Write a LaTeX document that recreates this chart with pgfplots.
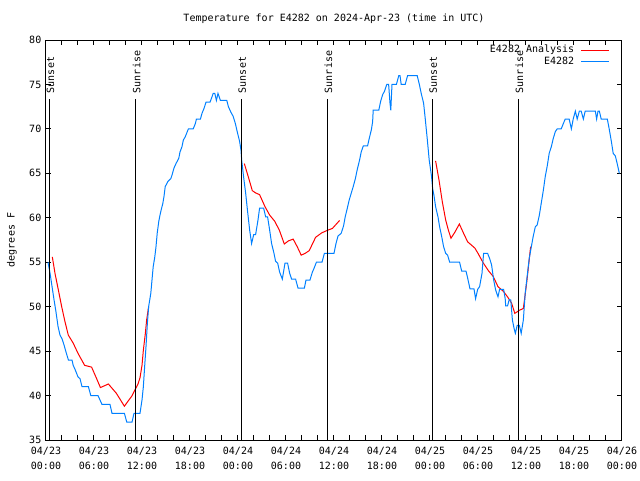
\documentclass[border=0pt]{standalone}
\usepackage{fontspec}
\setmainfont{DejaVu Sans Mono}
\usepackage{pgfplots}
\pgfplotsset{compat=1.18}
\definecolor{gred}{RGB}{255,0,0}
\definecolor{gblue}{RGB}{0,128,255}
\begin{document}
\begin{tikzpicture}[font=\fontsize{7.5pt}{9pt}\selectfont]
\path[use as bounding box] (-34.5pt,-30pt) rectangle (445.5pt,330pt);
\begin{axis}[
  at={(0pt,0pt)}, anchor=south west,
  scale only axis, width=432pt, height=300pt,
  xmin=0, xmax=72, ymin=35, ymax=80,
  axis line style={black, line width=0.75pt},
  xtick={0,6,...,72},
  minor xtick={2,4,8,10,14,16,20,22,26,28,32,34,38,40,44,46,50,52,56,58,62,64,68,70},
  ytick={35,40,...,80},
  major tick length=3.5pt, minor tick length=3.5pt,
  tick style={black, line width=0.75pt},
  xticklabels={{04/23\\00:00},{04/23\\06:00},{04/23\\12:00},{04/23\\18:00},{04/24\\00:00},{04/24\\06:00},{04/24\\12:00},{04/24\\18:00},{04/25\\00:00},{04/25\\06:00},{04/25\\12:00},{04/25\\18:00},{04/26\\00:00}},
  xticklabel style={align=center, font=\fontsize{7.5pt}{11.2pt}\selectfont, yshift=-1.8pt},
  /pgf/number format/assume math mode=true,
  yticklabel style={font=\fontsize{7.5pt}{9pt}\selectfont},
  title={Temperature for E4282 on 2024-Apr-23 (time in UTC)},
  title style={at={(axis description cs:0.5,1.0325)}, anchor=center, inner sep=0pt},
  ylabel={degrees F},
  ylabel style={at={(axis description cs:-0.059,0.5)}, anchor=center, inner sep=0pt},
  legend style={at={(rel axis cs:0.979,0.99)}, anchor=north east, draw=none, fill=none,
    inner sep=0pt, outer sep=0pt, nodes={inner sep=1pt}, row sep=-0.5pt},
  legend cell align=right,
  legend plot pos=right,
  legend image code/.code={\path (0pt,0pt); \draw[#1] (4pt,0pt) -- (25pt,0pt);},
]
% Analysis (red)
\addplot[gred, line width=0.75pt] coordinates {
(0.79,55.6) (1.125,53.75) (1.54,51.9) (1.96,50.0) (2.375,48.3) (2.79,46.8) (3.4,45.9) (4.0,44.75)
(4.83,43.4) (5.7,43.2) (6.33,41.9) (6.8,40.9) (7.8,41.3) (8.8,40.25) (9.8,38.8) (10.2,39.3)
(10.7,39.9) (11.1,40.6) (11.5,41.3) (11.75,42) (12.0,43.4) (12.17,45.1) (12.42,47) (12.58,48.5) (12.83,50)
};
\addlegendentry{E4282 Analysis}
\addplot[gred, line width=0.75pt, forget plot] coordinates {
(24.79,66.1) (25.29,64.6) (25.79,63.05) (26.2,62.8) (26.7,62.6) (27.375,61.25) (27.96,60.3) (28.6,59.6)
(29.17,58.6) (29.79,57.05) (30.3,57.4) (30.9,57.6) (31.4,56.75) (31.9,55.8) (32.4,56.0) (32.9,56.3)
(33.7,57.8) (34.46,58.3) (35.2,58.6) (35.8,58.8) (36.2,59.2) (36.7,59.7)
};
\addplot[gred, line width=0.75pt, forget plot] coordinates {
(48.7,66.4) (49.125,64.25) (49.54,61.8) (49.96,59.75) (50.3,58.6) (50.625,57.7) (51.125,58.4) (51.67,59.3)
(52.2,58.25) (52.7,57.3) (53.6,56.6) (54.0,56) (54.67,54.9) (55.3,54.05) (55.9,53.4) (56.5,52.25)
(57.2,51.7) (57.7,51.1) (58.2,50.4) (58.6,49.25) (59.2,49.6) (59.67,49.8) (59.875,51.2) (60.1,52.8)
(60.33,54.7) (60.58,56.75)
};
% Observations (blue)
\addplot[gblue, line width=0.75pt] coordinates {
(0.25,55) (0.5,53.8) (0.75,52.3) (1.0,50.8) (1.25,49.4) (1.5,47.8) (1.75,46.8) (2.0,46.4) (2.25,45.7)
(2.5,44.9) (2.8,44) (3.25,44) (3.4,43.4) (3.65,42.9) (4.0,42.1) (4.25,41.9) (4.5,41) (5.3,41) (5.6,40)
(6.5,40) (6.75,39.5) (7.0,39) (8.0,39) (8.25,38) (9.8,38) (10.1,37) (10.75,37) (11.0,38) (11.75,38)
(12.0,39.5) (12.17,41) (12.33,43.25) (12.5,45.5) (12.67,48.1) (12.83,50) (13.1,51.5) (13.25,53)
(13.4,54.5) (13.6,55.6) (13.75,56.75) (13.9,58.25) (14.1,59.6) (14.25,60.3) (14.4,60.9) (14.6,61.6)
(14.75,62.4) (14.9,63.5) (15.25,64.1) (15.6,64.4) (15.75,64.8) (16.0,65.6) (16.25,66.1) (16.6,66.7)
(16.75,67.4) (17.0,68) (17.17,68.75) (17.4,69.1) (17.8,70) (18.4,70) (18.67,70.6) (18.8,71.1)
(19.3,71.1) (19.5,71.75) (19.75,72.3) (20.0,73) (20.5,73) (20.75,73.6) (20.9,74) (21.1,74) (21.3,73.2)
(21.5,74) (21.8,73.2) (22.6,73.2) (22.8,72.5) (23.1,71.9) (23.4,71.4) (23.67,70.6) (23.9,69.7)
(24.2,68.6) (24.375,67.6) (24.46,66.5) (24.7,64.6) (24.96,62.75) (25.2,60.7) (25.46,58.6) (25.7,57.1)
(25.96,58.1) (26.2,58.1) (26.5,59.75) (26.7,61.1) (27.2,61.1) (27.46,60.1) (27.7,60.1) (27.96,58.6)
(28.2,57.1) (28.5,56) (28.7,55.1) (28.96,54.9) (29.2,53.9) (29.54,53.1) (29.875,54.9) (30.2,54.9)
(30.46,53.75) (30.7,53.1) (31.2,53.1) (31.5,52.1) (32.3,52.1) (32.5,53) (33.0,53) (33.3,53.9)
(33.5,54.3) (33.8,55) (34.5,55) (34.8,56) (36.0,56) (36.25,57.1) (36.5,57.95) (36.9,58.25) (37.2,59.1)
(37.4,60.1) (37.67,61.1) (37.9,62) (38.2,62.9) (38.4,63.5) (38.67,64.4) (38.9,65.4) (39.2,66.5)
(39.4,67.4) (39.67,68.1) (40.2,68.1) (40.4,68.9) (40.67,69.9) (40.83,70.8) (40.9,72.1) (41.6,72.1)
(41.83,73.1) (42.1,73.9) (42.3,74.2) (42.6,75) (42.83,75) (43.0,72.9) (43.1,72.1) (43.25,75) (43.8,75)
(44.1,76) (44.25,76) (44.4,75) (44.9,75) (45.2,76) (46.4,76) (46.67,75) (46.9,74) (47.2,72.9)
(47.4,71.2) (47.67,68.75) (47.9,66.5) (48.2,64.6) (48.33,63.3) (48.5,62.5) (48.7,61.25) (49.0,60.1)
(49.2,59) (49.46,57.9) (49.7,56.75) (49.96,56) (50.2,55.8) (50.46,55) (51.7,55) (51.96,54) (52.5,54)
(52.7,53.25) (53.0,52) (53.5,52) (53.7,50.9) (53.96,51.95) (54.2,52.25) (54.5,53.75) (54.7,56)
(55.2,56) (55.46,55.4) (55.7,54.7) (55.96,53) (56.2,51.9) (56.5,51.1) (56.7,51.95) (57.2,51.95)
(57.4,50.9) (57.46,50.1) (57.7,50.1) (57.9,50.8) (58.1,50.75) (58.3,48.5) (58.5,47.6) (58.67,47)
(58.9,47.9) (59.17,47.9) (59.4,47) (59.67,48.5) (59.9,51.5) (60.17,53.6) (60.4,55.4) (60.67,56.75)
(60.9,57.9) (61.17,59) (61.4,59.2) (61.67,60.3) (61.9,61.6) (62.17,63.1) (62.4,64.6) (62.67,65.9)
(62.9,67.25) (63.17,68) (63.4,68.9) (63.67,69.7) (63.9,70) (64.4,70) (64.67,70.6) (64.9,71.1)
(65.4,71.1) (65.67,70) (65.9,71.1) (66.17,72) (66.4,71.1) (66.67,72) (66.9,72) (67.17,71.1) (67.4,72)
(68.67,72) (68.83,71.1) (69.0,72) (69.17,72) (69.4,71.1) (70.17,71.1) (70.4,70) (70.67,68.6)
(70.9,67.25) (71.17,66.95) (71.4,66.1) (71.67,65)
};
\addlegendentry{E4282}
% Sunset / sunrise markers
\addplot[black, line width=0.75pt, forget plot] coordinates {(0.42,35) (0.42,73.36)};
\addplot[black, line width=0.75pt, forget plot] coordinates {(11.2,35) (11.2,73.36)};
\addplot[black, line width=0.75pt, forget plot] coordinates {(24.4,35) (24.4,73.36)};
\addplot[black, line width=0.75pt, forget plot] coordinates {(35.17,35) (35.17,73.36)};
\addplot[black, line width=0.75pt, forget plot] coordinates {(48.29,35) (48.29,73.36)};
\addplot[black, line width=0.75pt, forget plot] coordinates {(59.04,35) (59.04,73.36)};
\node[rotate=90, anchor=west, inner sep=0pt] at (axis cs:0.55,74.0) {Sunset};
\node[rotate=90, anchor=west, inner sep=0pt] at (axis cs:11.33,74.0) {Sunrise};
\node[rotate=90, anchor=west, inner sep=0pt] at (axis cs:24.53,74.0) {Sunset};
\node[rotate=90, anchor=west, inner sep=0pt] at (axis cs:35.3,74.0) {Sunrise};
\node[rotate=90, anchor=west, inner sep=0pt] at (axis cs:48.42,74.0) {Sunset};
\node[rotate=90, anchor=west, inner sep=0pt] at (axis cs:59.17,74.0) {Sunrise};
\end{axis}
\end{tikzpicture}
\end{document}
